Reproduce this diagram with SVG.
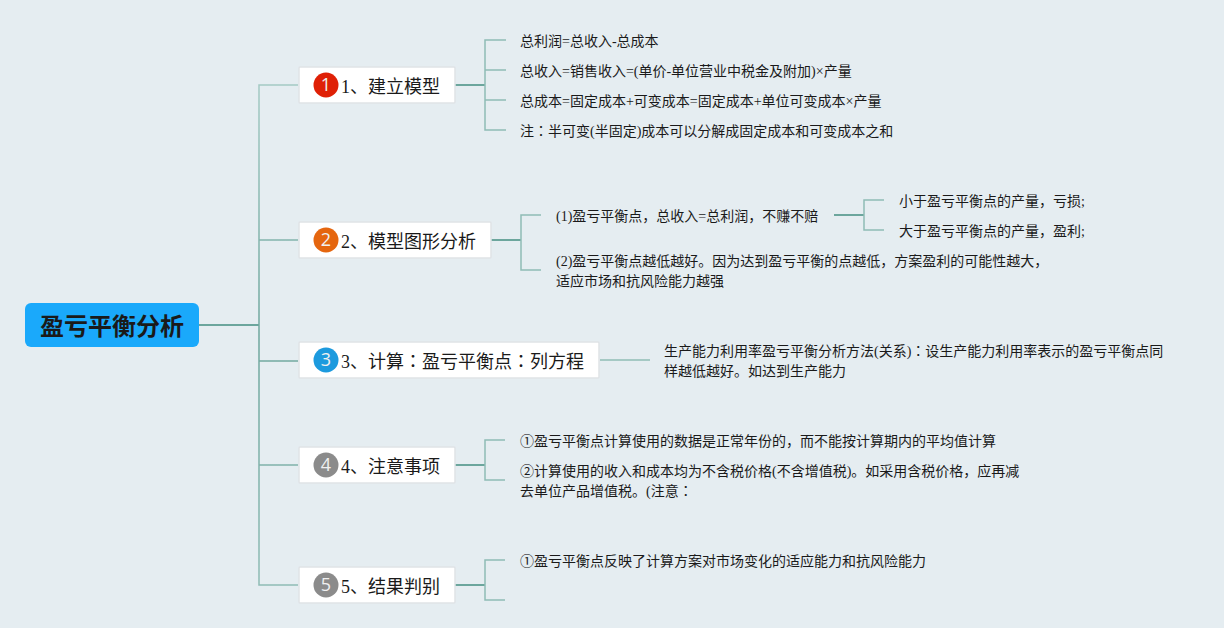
<svg xmlns="http://www.w3.org/2000/svg" width="1224" height="628" viewBox="0 0 1224 628">
<style>
text{font-family:"Liberation Serif","Noto Sans CJK SC",serif;fill:#1a1a1a}
.t{font-size:14px}
.b{font-size:18px}
.k{font-family:"Noto Sans CJK TC",sans-serif}
.box{fill:#fff;stroke:#dfe3e6;stroke-width:1.500}
.n{font-family:"Open Sans","Liberation Sans",sans-serif;font-size:18px;fill:#f0f0f0;text-anchor:middle}
.c{fill:none;stroke:#8fbcb5;stroke-width:1.500}
.d{fill:none;stroke:#6ca69d;stroke-width:2}
</style>
<defs>
<linearGradient id="spine" gradientUnits="userSpaceOnUse" x1="259" y1="85" x2="259" y2="585">
<stop offset="0" stop-color="#a4cac4"/><stop offset="0.5" stop-color="#6fa79e"/><stop offset="1" stop-color="#8fbcb5"/>
</linearGradient>
</defs>
<rect width="1224" height="628" fill="#e5edf1"/>
<g id="connectors">
<path class="d" d="M199 325H259"/>
<path d="M298 85H259V585H298M259 240H298M259 361H298M259 465H298" fill="none" stroke="url(#spine)" stroke-width="1.500"/>
<path class="d" d="M455 85H485M491 240H521M834 215H864M455 465H485M455 585H485"/>
<path class="c" d="M506 40H485V130H506M485 70H506M485 100H506"/>
<path class="c" d="M541 215H521V270H541"/>
<path class="c" d="M884 200H864V230H884"/>
<path class="c" d="M600 360H650"/>
<path class="c" d="M505 440H485V480H505"/>
<path class="c" d="M505 560H485V600H505"/>
</g>
<g id="root">
<rect x="25" y="303" width="174" height="44" rx="6" fill="#1aa9fb"/>
<text x="112" y="335" font-size="24" font-weight="bold" text-anchor="middle">盈亏平衡分析</text>
</g>
<g id="node1">
<rect class="box" x="299" y="67" width="156" height="36" rx="1"/>
<circle cx="326" cy="85" r="12.500" fill="#df2006"/>
<text class="n" x="326" y="91">1</text>
<text class="b" x="341" y="93">1、建立模型</text>
</g>
<g id="node2">
<rect class="box" x="299" y="222" width="192" height="36" rx="1"/>
<circle cx="326" cy="240" r="12.500" fill="#e5660f"/>
<text class="n" x="326" y="246">2</text>
<text class="b" x="341" y="248">2、模型图形分析</text>
</g>
<g id="node3">
<rect class="box" x="299" y="342" width="300" height="36" rx="1"/>
<circle cx="326" cy="360" r="12.500" fill="#1c9ade"/>
<text class="n" x="326" y="366">3</text>
<text class="b" x="341" y="368">3、计算<tspan class="k">：</tspan>盈亏平衡点<tspan class="k">：</tspan>列方程</text>
</g>
<g id="node4">
<rect class="box" x="299" y="447" width="156" height="36" rx="1"/>
<circle cx="326" cy="465" r="12.500" fill="#8b8b8b"/>
<text class="n" x="326" y="471">4</text>
<text class="b" x="341" y="473">4、注意事项</text>
</g>
<g id="node5">
<rect class="box" x="299" y="567" width="156" height="36" rx="1"/>
<circle cx="326" cy="585" r="12.500" fill="#8b8b8b"/>
<text class="n" x="326" y="591">5</text>
<text class="b" x="341" y="593">5、结果判别</text>
</g>
<g id="leaf1-1"><text class="t" x="520" y="46">总利润=总收入-总成本</text></g>
<g id="leaf1-2"><text class="t" x="520" y="76">总收入=销售收入=(单价-单位营业中税金及附加)×产量</text></g>
<g id="leaf1-3"><text class="t" x="520" y="106">总成本=固定成本+可变成本=固定成本+单位可变成本×产量</text></g>
<g id="leaf1-4"><text class="t" x="520" y="136">注<tspan class="k">：</tspan>半可变(半固定)成本可以分解成固定成本和可变成本之和</text></g>
<g id="leaf2-1"><text class="t" x="556" y="221">(1)盈亏平衡点，总收入=总利润，不赚不赔</text></g>
<g id="leaf2-1-1"><text class="t" x="899" y="206">小于盈亏平衡点的产量，亏损;</text></g>
<g id="leaf2-1-2"><text class="t" x="899" y="236">大于盈亏平衡点的产量，盈利;</text></g>
<g id="leaf2-2"><text class="t" x="556" y="266">(2)盈亏平衡点越低越好。因为达到盈亏平衡的点越低，方案盈利的可能性越大，</text><text class="t" x="556" y="286">适应市场和抗风险能力越强</text></g>
<g id="leaf3-1"><text class="t" x="664" y="356">生产能力利用率盈亏平衡分析方法(关系)<tspan class="k">：</tspan>设生产能力利用率表示的盈亏平衡点同</text><text class="t" x="664" y="376">样越低越好。如达到生产能力</text></g>
<g id="leaf4-1"><text class="t" x="520" y="446">①盈亏平衡点计算使用的数据是正常年份的，而不能按计算期内的平均值计算</text></g>
<g id="leaf4-2"><text class="t" x="520" y="476">②计算使用的收入和成本均为不含税价格(不含增值税)。如采用含税价格，应再减</text><text class="t" x="520" y="496">去单位产品增值税。(注意<tspan class="k">：</tspan></text></g>
<g id="leaf5-1"><text class="t" x="520" y="566">①盈亏平衡点反映了计算方案对市场变化的适应能力和抗风险能力</text></g>
</svg>
